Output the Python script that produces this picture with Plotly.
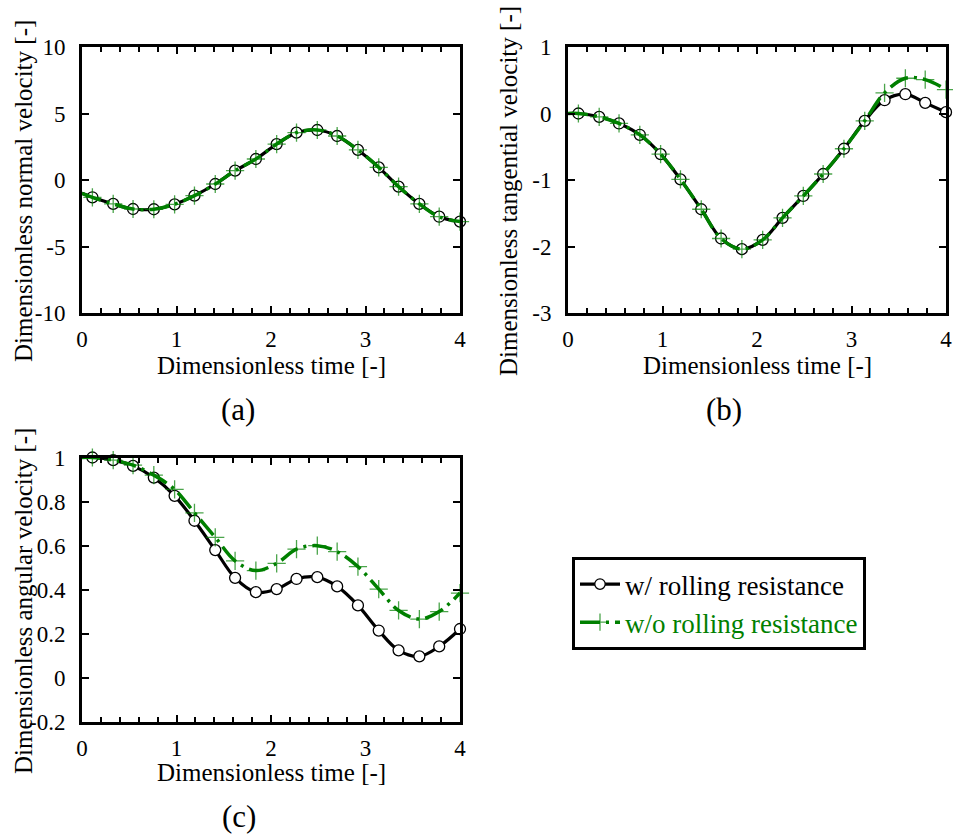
import plotly.graph_objects as go

W, H = 953, 838

# Sample times (t = 0 starts the curve; markers are shown from the 2nd sample on)
t = [0.0, 0.11, 0.33, 0.54, 0.76, 0.98, 1.19, 1.41, 1.62, 1.84, 2.06,
     2.27, 2.49, 2.70, 2.92, 3.14, 3.35, 3.57, 3.78, 4.0]

# (a) normal velocity
vn_with = [-1.0, -1.30, -1.80, -2.18, -2.20, -1.83, -1.18, -0.30, 0.70, 1.58, 2.70,
           3.56, 3.76, 3.31, 2.26, 0.95, -0.50, -1.80, -2.76, -3.13]
vn_without = [-1.0, -1.30, -1.80, -2.18, -2.20, -1.83, -1.18, -0.30, 0.70, 1.58, 2.70,
              3.56, 3.76, 3.31, 2.26, 0.95, -0.50, -1.80, -2.76, -3.13]

# (b) tangential velocity
vt_with = [0.0, 0.0, -0.05, -0.15, -0.32, -0.61, -0.99, -1.44, -1.88, -2.04, -1.90,
           -1.57, -1.24, -0.91, -0.53, -0.11, 0.20, 0.29, 0.16, 0.02]
vt_without = [0.0, 0.0, -0.05, -0.15, -0.32, -0.61, -0.99, -1.44, -1.88, -2.04, -1.90,
              -1.57, -1.24, -0.91, -0.53, -0.11, 0.31, 0.53, 0.51, 0.36]

# (c) angular velocity
w_with = [1.0, 1.0, 0.988, 0.962, 0.909, 0.826, 0.713, 0.580, 0.454, 0.389, 0.403,
          0.449, 0.457, 0.415, 0.329, 0.215, 0.125, 0.098, 0.143, 0.222]
w_without = [1.0, 1.0, 0.988, 0.965, 0.920, 0.855, 0.749, 0.638, 0.531, 0.487, 0.520,
             0.584, 0.600, 0.573, 0.505, 0.403, 0.306, 0.267, 0.301, 0.385]

x_ticks = [0, 1, 2, 3, 4]
x_labels = ["0", "1", "2", "3", "4"]
ya_ticks = [-10, -5, 0, 5, 10]
ya_labels = ["-10", "-5", "0", "5", "10"]
yb_ticks = [-3, -2, -1, 0, 1]
yb_labels = ["-3", "-2", "-1", "0", "1"]
yc_ticks = [-0.2, 0, 0.2, 0.4, 0.6, 0.8, 1]
yc_labels = ["-0.2", "0", "0.2", "0.4", "0.6", "0.8", "1"]

SERIF = "Liberation Serif, Times New Roman, serif"
BLACK = "#000000"
GREEN = "#008000"

marker_sizes_circle = [0] + [11] * (len(t) - 1)
marker_sizes_cross = [0] + [13] * (len(t) - 1)

NAME_WITH = "w/ rolling resistance"
NAME_WITHOUT = "<span style='color:#008000'>w/o rolling resistance</span>"

fig = go.Figure()

panels = [
    ("x", "y", vn_with, vn_without, True),
    ("x2", "y2", vt_with, vt_without, False),
    ("x3", "y3", w_with, w_without, False),
]

for xa, ya, y_with, y_without, show in panels:
    fig.add_trace(go.Scatter(
        x=t, y=y_with, xaxis=xa, yaxis=ya, mode="lines+markers",
        line=dict(color=BLACK, width=3.2, shape="spline", smoothing=1.0),
        marker=dict(symbol="circle", size=marker_sizes_circle, color="#ffffff",
                    opacity=1, line=dict(color=BLACK, width=1.3)),
        cliponaxis=False, name=NAME_WITH, showlegend=show, legendrank=1,
    ))
for xa, ya, y_with, y_without, show in panels:
    fig.add_trace(go.Scatter(
        x=t, y=y_without, xaxis=xa, yaxis=ya, mode="lines+markers",
        line=dict(color=GREEN, width=3.5, shape="spline", smoothing=1.0,
                  dash="20px,6px,3px,6px"),
        marker=dict(symbol="cross-thin", size=marker_sizes_cross, color=GREEN,
                    line=dict(color=GREEN, width=1.3)),
        cliponaxis=False, name=NAME_WITHOUT, showlegend=show, legendrank=2,
    ))


def px_x(px):
    return px / W


def px_y(px):
    return 1 - px / H


axis_common = dict(
    showline=True, linecolor=BLACK, linewidth=3, mirror="ticks",
    ticks="inside", ticklen=7, tickwidth=1.5, tickcolor=BLACK,
    showgrid=False, zeroline=False, automargin=False,
    tickfont=dict(family=SERIF, size=23, color=BLACK),
)
x_common = dict(axis_common, range=[0, 4], tickvals=x_ticks, ticktext=x_labels,
                ticklabelstandoff=3,
                minor=dict(dtick=0.2, ticklen=5, tickwidth=1.5, tickcolor=BLACK,
                           ticks="inside", showgrid=False))

dom_x_left = [px_x(82), px_x(460)]
dom_x_right = [px_x(568), px_x(946)]
dom_y_top = [px_y(313), px_y(47)]
dom_y_bottom = [px_y(722), px_y(457.5)]

fig.update_layout(
    width=W, height=H,
    margin=dict(l=0, r=0, t=0, b=0),
    paper_bgcolor="white", plot_bgcolor="white",
    xaxis=dict(x_common, domain=dom_x_left, anchor="y"),
    yaxis=dict(axis_common, domain=dom_y_top, anchor="x", range=[-10, 10],
               tickvals=ya_ticks, ticktext=ya_labels, ticklabelstandoff=9),
    xaxis2=dict(x_common, domain=dom_x_right, anchor="y2"),
    yaxis2=dict(axis_common, domain=dom_y_top, anchor="x2", range=[-3, 1],
                tickvals=yb_ticks, ticktext=yb_labels, ticklabelstandoff=9),
    xaxis3=dict(x_common, domain=dom_x_left, anchor="y3"),
    yaxis3=dict(axis_common, domain=dom_y_bottom, anchor="x3", range=[-0.2, 1],
                tickvals=yc_ticks, ticktext=yc_labels, ticklabelstandoff=9),
    legend=dict(
        x=px_x(572), y=px_y(557), xanchor="left", yanchor="top",
        bordercolor=BLACK, borderwidth=3, bgcolor="white",
        font=dict(family=SERIF, size=27, color=BLACK),
        tracegroupgap=0, itemwidth=40,
    ),
    showlegend=True,
)

title_font = dict(family=SERIF, size=25, color=BLACK)
label_font = dict(family=SERIF, size=31, color=BLACK)

annotations = [
    # x-axis titles
    dict(text="Dimensionless time [-]", x=px_x(271), y=px_y(365), font=title_font),
    dict(text="Dimensionless time [-]", x=px_x(757), y=px_y(365), font=title_font),
    dict(text="Dimensionless time [-]", x=px_x(271), y=px_y(772), font=title_font),
    # y-axis titles
    dict(text="Dimensionless normal velocity [-]", x=px_x(23), y=px_y(191),
         textangle=-90, font=title_font),
    dict(text="Dimensionless tangential velocity [-]", x=px_x(508), y=px_y(191),
         textangle=-90, font=title_font),
    dict(text="Dimensionless angular velocity [-]", x=px_x(23), y=px_y(601),
         textangle=-90, font=title_font),
    # panel labels
    dict(text="(a)", x=px_x(238), y=px_y(409), font=label_font),
    dict(text="(b)", x=px_x(724), y=px_y(409), font=label_font),
    dict(text="(c)", x=px_x(239), y=px_y(816), font=label_font),
]
for a in annotations:
    a.update(xref="paper", yref="paper", xanchor="center", yanchor="middle",
             showarrow=False)
fig.update_layout(annotations=annotations)

fig.write_html("out.html")
